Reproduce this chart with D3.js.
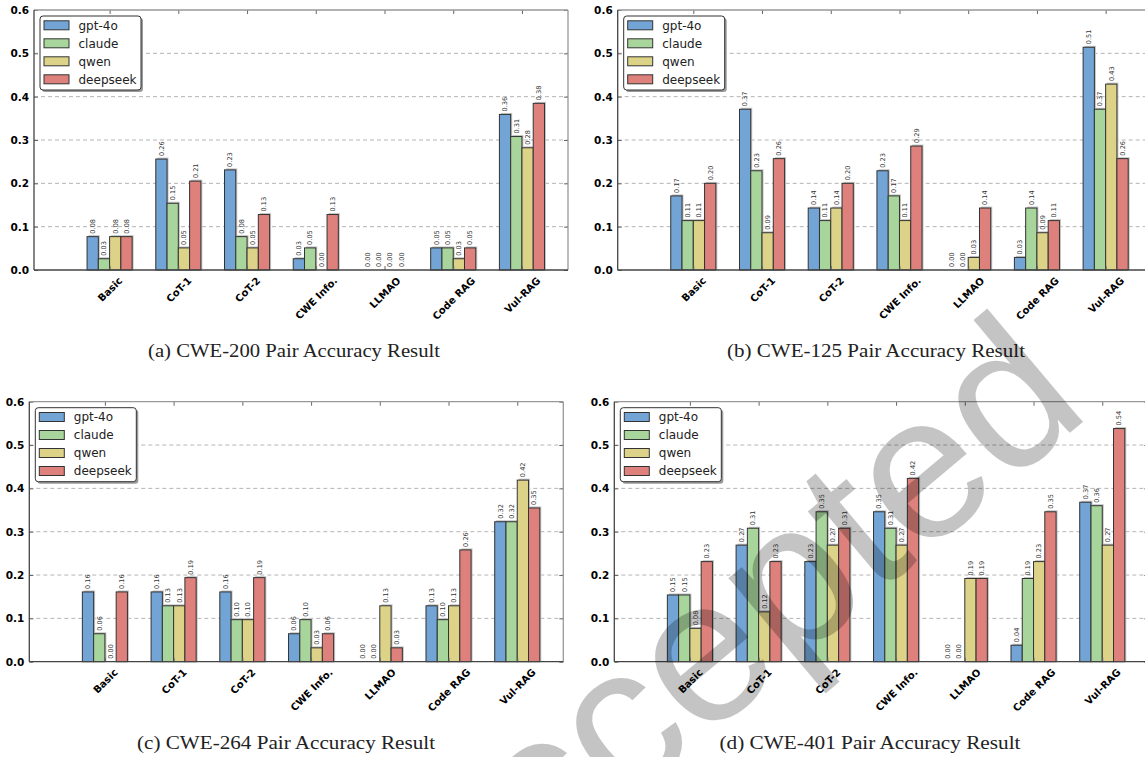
<!DOCTYPE html>
<html>
<head>
<meta charset="utf-8">
<script src="https://cdnjs.cloudflare.com/ajax/libs/d3/7.8.5/d3.min.js"></script>
<style>
  body { margin: 0; background: #fff; }
  svg { display: block; }
</style>
</head>
<body>
<svg id="chart" width="1145" height="757"></svg>
<script>
// categories / series
var categories = ["Basic", "CoT-1", "CoT-2", "CWE Info.", "LLMAO", "Code RAG", "Vul-RAG"];
var models = ["gpt-4o", "claude", "qwen", "deepseek"];
var colors = ["#72a4d6", "#a7d59b", "#ddd388", "#de807b"];
var yTicks = [0.0, 0.1, 0.2, 0.3, 0.4, 0.5, 0.6];

// rows: gpt-4o, claude, qwen, deepseek
var cwe200 = [
  [0.077, 0.256, 0.231, 0.026, 0.0, 0.051, 0.359],
  [0.026, 0.154, 0.077, 0.051, 0.0, 0.051, 0.308],
  [0.077, 0.051, 0.051, 0.0, 0.0, 0.026, 0.282],
  [0.077, 0.2051, 0.128, 0.128, 0.0, 0.051, 0.3846]
];
var cwe125 = [
  [0.171, 0.371, 0.143, 0.229, 0.0, 0.029, 0.514],
  [0.114, 0.229, 0.114, 0.171, 0.0, 0.143, 0.371],
  [0.114, 0.086, 0.143, 0.114, 0.029, 0.086, 0.429],
  [0.200, 0.257, 0.200, 0.286, 0.143, 0.114, 0.257]
];
var cwe264 = [
  [0.161, 0.161, 0.161, 0.0645, 0.0, 0.129, 0.323],
  [0.0645, 0.129, 0.097, 0.097, 0.0, 0.097, 0.323],
  [0.0, 0.129, 0.097, 0.032, 0.129, 0.129, 0.419],
  [0.161, 0.194, 0.194, 0.0645, 0.032, 0.258, 0.3548]
];
var cwe401 = [
  [0.154, 0.269, 0.231, 0.346, 0.0, 0.038, 0.368],
  [0.154, 0.308, 0.346, 0.308, 0.0, 0.192, 0.360],
  [0.077, 0.115, 0.269, 0.269, 0.192, 0.231, 0.269],
  [0.231, 0.231, 0.308, 0.423, 0.192, 0.346, 0.538]
];
var captions = [
  "(a) CWE-200 Pair Accuracy Result",
  "(b) CWE-125 Pair Accuracy Result",
  "(c) CWE-264 Pair Accuracy Result",
  "(d) CWE-401 Pair Accuracy Result"
];
var watermark = "Accepted";

// layout
var panels = [
  { data: cwe200, cap: captions[0], x0: 34,    y0: 10,    cx: 294, cy: 357, cw: 292 },
  { data: cwe125, cap: captions[1], x0: 617.7, y0: 10,    cx: 876, cy: 357, cw: 298 },
  { data: cwe264, cap: captions[2], x0: 29.3,  y0: 401.7, cx: 286, cy: 749, cw: 298 },
  { data: cwe401, cap: captions[3], x0: 614.3, y0: 401.7, cx: 870, cy: 749, cw: 301 }
];

var W = 534, H = 260;
var bw = 0.164;
var x = d3.scaleLinear().domain([-1.1, 6.67]).range([0, W]);
var y = d3.scaleLinear().domain([0, 0.6]).range([H, 0]);
var svg = d3.select("#chart");

panels.forEach(function (p) {
  var g = svg.append("g").attr("transform", "translate(" + p.x0 + "," + p.y0 + ")");

  // dashed grid
  g.selectAll("line.grid").data(yTicks.slice(1, 6)).enter().append("line")
    .attr("class", "grid")
    .attr("x1", 0).attr("x2", W)
    .attr("y1", function (d) { return y(d); }).attr("y2", function (d) { return y(d); })
    .attr("stroke", "#b4b4b4").attr("stroke-width", 1).attr("stroke-dasharray", "4,3");

  // bars
  p.data.forEach(function (vals, j) {
    var bars = g.append("g");
    vals.forEach(function (v, i) {
      if (v <= 0) return;
      var bx = x(i + (j - 2) * bw), wpx = x(bw) - x(0);
      bars.append("rect")
        .attr("x", bx + 1.5).attr("y", y(v) - 1.5)
        .attr("width", wpx).attr("height", H - y(v) + 1.5)
        .attr("fill", "#c4c4c4");
      bars.append("rect")
        .attr("x", bx).attr("y", y(v))
        .attr("width", wpx).attr("height", H - y(v))
        .attr("fill", colors[j]).attr("stroke", "#333").attr("stroke-width", 1);
    });
  });

  // value labels
  p.data.forEach(function (vals, j) {
    vals.forEach(function (v, i) {
      var lx = x(i + (j - 1.5) * bw), ly = y(v) - 3;
      g.append("text")
        .attr("transform", "translate(" + (lx + 2.3) + "," + ly + ") rotate(-90)")
        .attr("font-family", "DejaVu Sans").attr("font-size", 6.6)
        .attr("fill", "#333")
        .text(v.toFixed(2));
    });
  });

  // axes (ticks inward)
  var yl = g.append("g").call(d3.axisLeft(y).tickValues(yTicks).tickFormat(d3.format(".1f"))
    .tickSize(-4).tickPadding(5));
  yl.selectAll("text").attr("font-family", "DejaVu Sans").attr("font-weight", "bold")
    .attr("font-size", 10.5).attr("fill", "#000");
  var yr = g.append("g").attr("transform", "translate(" + W + ",0)")
    .call(d3.axisRight(y).tickValues(yTicks).tickFormat("").tickSize(-4));
  var xt = g.append("g").call(d3.axisTop(x).tickValues(d3.range(7)).tickFormat("").tickSize(-4));
  var xb = g.append("g").attr("transform", "translate(0," + H + ")")
    .call(d3.axisBottom(x).tickValues(d3.range(7)).tickFormat(function (i) { return categories[i]; })
      .tickSize(-4));
  [yl, yr, xt, xb].forEach(function (a) {
    a.select(".domain").remove();
    a.selectAll(".tick line").attr("stroke", "#666");
  });
  xb.selectAll("text")
    .attr("font-family", "DejaVu Sans").attr("font-weight", "bold").attr("font-size", 10)
    .attr("fill", "#000")
    .attr("y", null).attr("dy", null)
    .attr("text-anchor", "middle").attr("dominant-baseline", "central")
    .attr("transform", function () {
      var w = this.getComputedTextLength();
      var half = (w + 11) / (2 * Math.SQRT2);
      return "translate(0," + (5 + half) + ") rotate(-45)";
    });

  // spines
  g.append("line").attr("x1", 0).attr("x2", W).attr("y1", 0).attr("y2", 0)
    .attr("stroke", "#999").attr("stroke-width", 1.3);
  g.append("line").attr("x1", W).attr("x2", W).attr("y1", 0).attr("y2", H)
    .attr("stroke", "#999").attr("stroke-width", 1.3);
  g.append("line").attr("x1", 0).attr("x2", 0).attr("y1", 0).attr("y2", H)
    .attr("stroke", "#444").attr("stroke-width", 1.3);
  g.append("line").attr("x1", 0).attr("x2", W).attr("y1", H).attr("y2", H)
    .attr("stroke", "#444").attr("stroke-width", 1.3);

  // legend
  var lg = g.append("g").attr("transform", "translate(6,6)");
  lg.append("rect").attr("x", 2).attr("y", 2).attr("width", 101).attr("height", 74)
    .attr("rx", 3).attr("fill", "#9a9a9a");
  lg.append("rect").attr("x", 0).attr("y", 0).attr("width", 101).attr("height", 74)
    .attr("rx", 3).attr("fill", "#fff").attr("stroke", "#333").attr("stroke-width", 1);
  models.forEach(function (m, j) {
    var ry = 9.3 + j * 18;
    lg.append("rect").attr("x", 4).attr("y", ry - 4.5).attr("width", 25).attr("height", 9)
      .attr("fill", colors[j]).attr("stroke", "#333").attr("stroke-width", 1);
    lg.append("text").attr("x", 38.5).attr("y", ry).attr("dy", "0.36em")
      .attr("font-family", "DejaVu Sans").attr("font-size", 12).attr("fill", "#222")
      .text(m);
  });

  // caption
  svg.append("text").attr("x", p.cx).attr("y", p.cy)
    .attr("text-anchor", "middle")
    .attr("font-family", "Liberation Serif").attr("font-size", 19.5).attr("fill", "#222")
    .attr("textLength", p.cw).attr("lengthAdjust", "spacingAndGlyphs")
    .text(p.cap);
});

// page watermark
svg.append("text")
  .attr("transform", "translate(766,688) rotate(-40)")
  .attr("text-anchor", "middle")
  .attr("font-family", "Liberation Sans").attr("font-size", 205)
  .attr("fill", "#000").attr("fill-opacity", 0.23)
  .text(watermark);
</script>
</body>
</html>
